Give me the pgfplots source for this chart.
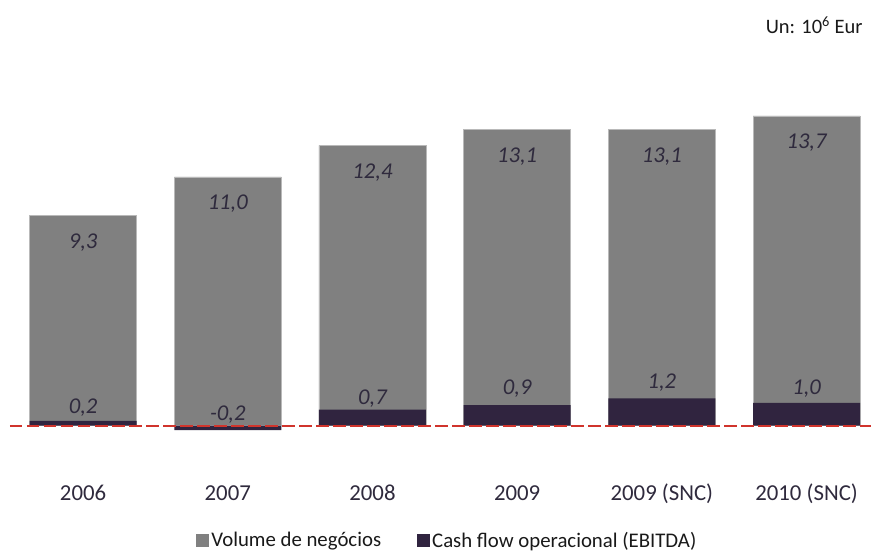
\documentclass[border=0pt]{standalone}
\usepackage{pgfplots}
\pgfplotsset{compat=1.18}
\usepackage{pgfplotstable}
\usepackage{fontspec}
\setmainfont{Carlito}

\definecolor{volgray}{HTML}{808080}
\definecolor{ebitda}{HTML}{30243F}
\definecolor{zeroline}{HTML}{D0342C}
\definecolor{labeltext}{HTML}{2F2A3D}

% x: category index, vol: volume de negocios, ebitda: cash flow operacional,
% elab: height at which the EBITDA value is written
\pgfplotstableread{
x vol  ebitda elab
0 9.3   0.2   0.81
1 11.0 -0.2   0.46
2 12.4  0.7   1.17
3 13.1  0.9   1.62
4 13.1  1.2   1.88
5 13.7  1.0   1.62
}\results

\begin{document}
\begin{tikzpicture}
\path[use as bounding box] (0pt,0pt) rectangle (871pt,-551pt);
\begin{axis}[
  at={(10pt,-440.2pt)}, anchor=south west,
  x=144.7pt, y=22.6pt,
  xmin=-0.505, xmax=5.445,
  ymin=-0.65, ymax=14.4,
  clip=false,
  axis line style={draw=none},
  major tick length=0pt,
  ytick=\empty,
  xtick={0,1,2,3,4,5},
  xticklabels={2006,2007,2008,2009,2009 (SNC),2010 (SNC)},
  xticklabel style={font=\fontsize{22.8}{26}\selectfont, text=labeltext,
    anchor=base, yshift=-60pt},
  legend columns=2,
  legend style={at={(0.508,-0.294)}, anchor=center, draw=none, fill=none,
    font=\fontsize{20.8}{24}\selectfont, text=black!90,
    /tikz/every even column/.append style={column sep=34pt},
    inner sep=0pt},
  legend image code/.code={\fill[#1, draw=none] (0pt,-6.5pt) rectangle (13pt,6.5pt);},
]
% Volume de negocios
\addplot[ybar, bar width=107pt, bar shift=0pt, fill=volgray,
  draw=volgray!55!white, line width=0.6pt]
  table[x=x, y=vol] {\results};
\addlegendentry{Volume de negócios}
% Cash flow operacional (EBITDA)
\addplot[ybar, bar width=107pt, bar shift=0pt, fill=ebitda, draw=none]
  table[x=x, y=ebitda] {\results};
\addlegendentry{Cash flow operacional (EBITDA)}
% zero reference line
\addplot[draw=zeroline, color=zeroline, line width=2pt, mark=none,
  dash pattern=on 12.5pt off 4.5pt, forget plot]
  coordinates {(-0.505,0) (5.445,0)};
% value labels inside the volume bars
\addplot[draw=none, mark=none, forget plot,
  point meta=explicit,
  nodes near coords={\pgfmathprintnumber[fixed, fixed zerofill, precision=1,
    use comma, assume math mode=true]{\pgfplotspointmeta}},
  every node near coord/.append style={anchor=center, yshift=-27pt,
    font=\itshape\fontsize{22.6}{26}\selectfont, text=labeltext}]
  table[x=x, y=vol, meta=vol] {\results};
% EBITDA value labels
\addplot[draw=none, mark=none, forget plot,
  point meta=explicit,
  nodes near coords={\pgfmathprintnumber[fixed, fixed zerofill, precision=1,
    use comma, assume math mode=true]{\pgfplotspointmeta}},
  every node near coord/.append style={anchor=center,
    font=\itshape\fontsize{22.6}{26}\selectfont, text=labeltext}]
  table[x=x, y=elab, meta=ebitda] {\results};
\end{axis}
\node[anchor=base east, font=\fontsize{20.5}{24}\selectfont, text=black!90]
  at (866pt,-34pt) {Un: 10\textsuperscript{6} Eur};
\end{tikzpicture}
\end{document}
